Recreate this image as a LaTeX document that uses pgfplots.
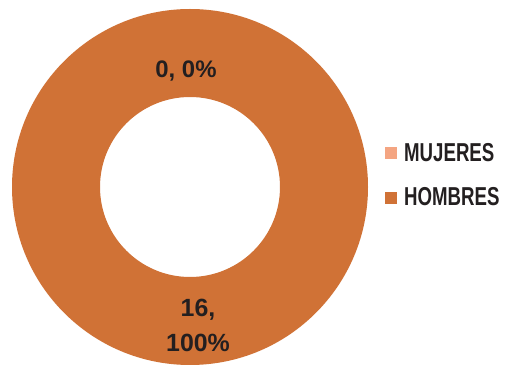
\documentclass[border=0pt]{standalone}
\usepackage{pgfplots}
\usepackage{pgfplotstable}
\pgfplotsset{compat=1.18}
\usepackage{fontspec}
\setmainfont{Liberation Sans}
\definecolor{mujeres}{HTML}{F4A582}
\definecolor{hombres}{HTML}{D07236}
\definecolor{txt}{HTML}{231F20}
\pgfplotstableread{
name value
MUJERES 0
HOMBRES 16
}\datatable
\begin{document}
\begin{tikzpicture}
\pgfplotstablegetelem{0}{value}\of\datatable \let\vm\pgfplotsretval
\pgfplotstablegetelem{1}{value}\of\datatable \let\vh\pgfplotsretval
\begin{axis}[
  scale only axis, width=509bp, height=372bp,
  xmin=-190, xmax=319, ymin=-185, ymax=187,
  hide axis, clip=false,
  legend style={draw=none, fill=none, at={(axis cs:195,46)}, anchor=north west,
    font=\bfseries\fontsize{26}{30}\selectfont, text=txt,
    row sep=21bp, cells={anchor=west}, inner sep=0pt},
  legend image code/.code={\fill[#1, draw=none] (0bp,-6bp) rectangle (12bp,6bp); \path[draw=none, fill=none] (0bp,0bp) -- (17bp,0bp);},
]
\path (axis cs:-190,-185) rectangle (axis cs:319,187);
\fill[hombres, even odd rule] (axis cs:0,0) circle[radius=178] (axis cs:0,0) circle[radius=90];
\addlegendimage{mujeres, fill=mujeres, draw=none}
\addlegendentry{\scalebox{0.72}[1]{MUJERES}}
\addlegendimage{hombres, fill=hombres, draw=none}
\addlegendentry{\scalebox{0.72}[1]{HOMBRES}}
\node[font=\bfseries\fontsize{24}{27}\selectfont, text=txt] at (axis cs:-4,116) {\vm, 0\%};
\node[font=\bfseries\fontsize{25}{35}\selectfont, text=txt, align=center] at (axis cs:8,-138) {\vh,\\100\%};
\end{axis}
\end{tikzpicture}
\end{document}
